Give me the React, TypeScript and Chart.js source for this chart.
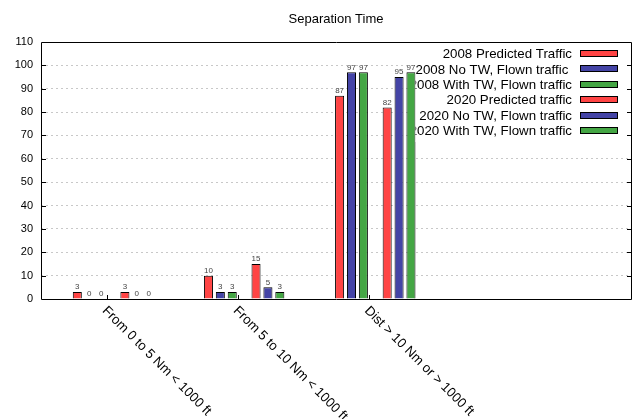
import React, { useEffect, useRef } from "react";
import { Chart, registerables } from "chart.js";

Chart.register(...registerables);

const chartTitle = "Separation Time";
const categories = [
  "From 0 to 5 Nm < 1000 ft",
  "From 5 to 10 Nm < 1000 ft",
  "Dist > 10 Nm or > 1000 ft",
];
const seriesNames = [
  "2008 Predicted Traffic",
  "2008 No TW, Flown traffic ",
  "2008 With TW, Flown traffic",
  "2020 Predicted traffic",
  "2020 No TW, Flown traffic",
  "2020 With TW, Flown traffic",
];
const pred2008 = [3, 10, 87];
const noTw2008 = [0, 3, 97];
const withTw2008 = [0, 3, 97];
const pred2020 = [3, 15, 82];
const noTw2020 = [0, 5, 95];
const withTw2020 = [0, 3, 97];
const yMin = 0;
const yMax = 110;
const yStep = 10;

const FONT = "'Liberation Sans', Arial, Helvetica, sans-serif";
const RED = "#ff4444";
const BLUE = "#4444a6";
const GREEN = "#44a644";

export default function App() {
  const ref = useRef<HTMLCanvasElement | null>(null);

  useEffect(() => {
    if (!ref.current) return;
    const series = [pred2008, noTw2008, withTw2008, pred2020, noTw2020, withTw2020];
    const colors = [RED, BLUE, GREEN, RED, BLUE, GREEN];
    const datasets: any[] = [];
    series.forEach((vals, k) => {
      if (k === 3) {
        // empty slot between the 2008 and 2020 clusters
        datasets.push({ label: "", data: [], backgroundColor: "transparent", borderWidth: 0 });
      }
      datasets.push({
        label: seriesNames[k],
        data: vals.map((v, i) => ({ x: i, y: v })),
        backgroundColor: colors[k],
        borderColor: "#000",
        borderWidth: 1,
        swatch: colors[k],
      });
    });

    const tickShift = 0.046;

    const decor = {
      id: "decor",
      afterDatasetsDraw(chart: any) {
        const { ctx, chartArea: a, scales } = chart;
        const xs = scales.x;
        const ys = scales.y;
        ctx.save();
        // value labels
        ctx.font = `8px ${FONT}`;
        ctx.fillStyle = "#444";
        ctx.textAlign = "center";
        ctx.textBaseline = "bottom";
        chart.data.datasets.forEach((ds: any, di: number) => {
          if (!ds.data.length) return;
          const meta = chart.getDatasetMeta(di);
          meta.data.forEach((el: any, i: number) => {
            ctx.fillText(String(ds.data[i].y), el.x, el.y - 1);
          });
        });

        // legend (opaque box)
        const boxL = 415.5;
        const boxT = a.top + 1;
        const boxR = a.right;
        const boxB = 142;
        ctx.fillStyle = "#fff";
        ctx.fillRect(boxL, boxT, boxR - boxL, boxB - boxT);
        const legendItems = chart.data.datasets.filter((d: any) => d.label);
        ctx.save();
        ctx.beginPath();
        ctx.rect(boxL, boxT, boxR - boxL, boxB - boxT);
        ctx.clip();
        ctx.font = `13.3px ${FONT}`;
        ctx.fillStyle = "#000";
        ctx.textAlign = "right";
        ctx.textBaseline = "middle";
        legendItems.forEach((d: any, k: number) => {
          const yy = 54.5 + 15.4 * k;
          ctx.fillText(d.label, 572, yy);
        });
        ctx.restore();
        legendItems.forEach((d: any, k: number) => {
          const yy = Math.round(54 + 15.4 * k);
          ctx.fillStyle = d.swatch;
          ctx.fillRect(580, yy - 4, 38, 7);
          ctx.strokeStyle = "#000";
          ctx.lineWidth = 1;
          ctx.strokeRect(580.5, yy - 3.5, 37, 6);
        });

        // frame
        ctx.strokeStyle = "#000";
        ctx.lineWidth = 1;
        ctx.beginPath();
        ctx.moveTo(a.left + 0.5, a.top + 0.5);
        ctx.lineTo(a.right + 0.5, a.top + 0.5);
        ctx.lineTo(a.right + 0.5, a.bottom + 0.5);
        ctx.lineTo(a.left + 0.5, a.bottom + 0.5);
        ctx.closePath();
        ctx.stroke();

        // y tick marks (both sides, inward)
        ctx.beginPath();
        for (let v = yMin + yStep; v < yMax; v += yStep) {
          const py = Math.round(ys.getPixelForValue(v)) + 0.5;
          ctx.moveTo(a.left, py);
          ctx.lineTo(a.left + 5, py);
          ctx.moveTo(a.right - 4, py);
          ctx.lineTo(a.right + 1, py);
        }
        // x tick marks
        categories.forEach((_, i) => {
          const px = Math.round(xs.getPixelForValue(i - tickShift)) + 0.5;
          ctx.moveTo(px, a.bottom);
          ctx.lineTo(px, a.bottom - 4);
        });
        ctx.stroke();

        // x labels rotated
        ctx.font = `13.3px ${FONT}`;
        ctx.fillStyle = "#000";
        ctx.textAlign = "left";
        ctx.textBaseline = "top";
        categories.forEach((c, i) => {
          const px = xs.getPixelForValue(i - tickShift);
          ctx.save();
          ctx.translate(px + 2, a.bottom + 5);
          ctx.rotate(Math.PI / 4);
          ctx.fillText(c, 0, 0);
          ctx.restore();
        });

        // title
        ctx.font = `13px ${FONT}`;
        ctx.textAlign = "center";
        ctx.textBaseline = "middle";
        ctx.fillText(chartTitle, (a.left + a.right) / 2, 19);
        ctx.restore();
      },
    };

    const chart = new Chart(ref.current, {
      type: "bar",
      data: { datasets },
      options: {
        responsive: false,
        animation: false,
        layout: { padding: { left: 0, top: 42, right: 6, bottom: 0 } },
        datasets: { bar: { categoryPercentage: 0.635, barPercentage: 0.76 } },
        plugins: { legend: { display: false }, title: { display: false }, tooltip: { enabled: false } },
        scales: {
          x: {
            type: "linear",
            min: -0.549,
            max: 3.95,
            offset: false,
            afterBuildTicks: (s: any) => {
              s.ticks = categories.map((_, i) => ({ value: i }));
            },
            ticks: { display: false },
            grid: { display: false },
            border: { display: false },
            afterFit: (s: any) => {
              s.height = 120;
            },
          },
          y: {
            min: yMin,
            max: yMax,
            ticks: {
              stepSize: yStep,
              padding: 8,
              color: "#000",
              font: { family: FONT, size: 11 },
            },
            grid: {
              drawTicks: false,
              color: (c: any) =>
                c.tick && (c.tick.value === yMin || c.tick.value === yMax) ? "rgba(0,0,0,0)" : "#c8c8c8",
            },
            border: { display: false, dash: [2, 3] },
            afterFit: (s: any) => {
              s.width = 41;
            },
          },
        },
      } as any,
      plugins: [decor],
    });
    return () => chart.destroy();
  }, []);

  return (
    <div style={{ position: "fixed", left: 0, top: 0, width: 637, height: 419, background: "#fff" }}>
      <canvas ref={ref} width={637} height={419} style={{ display: "block" }} />
    </div>
  );
}
